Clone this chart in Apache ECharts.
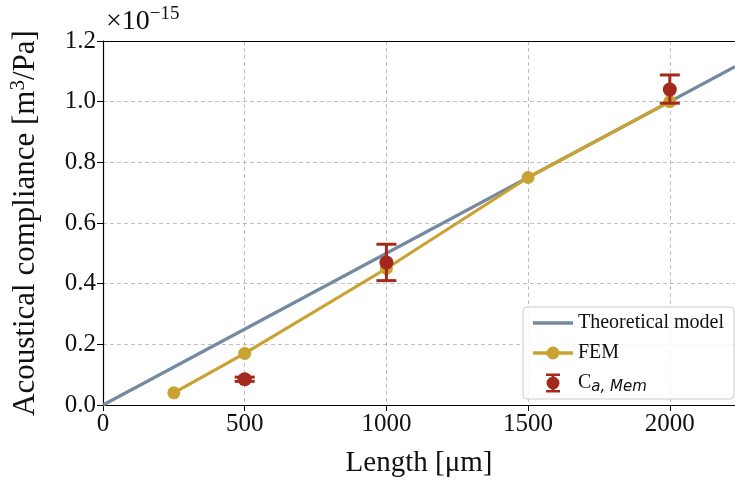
<!DOCTYPE html>
<html lang="en">
<head>
    <meta charset="UTF-8">
    <title>Acoustical compliance</title>
    <script src="https://cdn.jsdelivr.net/npm/echarts@6/dist/echarts.min.js"></script>
</head>
<body style="margin:0">
<div id="box" style="width:735px;height:483px;"></div>
<script type="text/javascript">
    // data (compliance in units of 1e-15 m^3/Pa)
    let theoryX=[0,2230];
    let theoryY=[0,1.115];
    let femX=[250,500,1000,1500,2000];
    let femY=[0.04,0.17,0.45,0.75,1.0];
    let measX=[500,1000,2000];
    let measY=[0.085,0.47,1.04];
    let measLo=[0.078,0.41,0.995];
    let measHi=[0.092,0.53,1.088];
    let xTicks=[0,500,1000,1500,2000];
    let yTicks=[0,0.2,0.4,0.6,0.8,1.0,1.2];

    let font='Liberation Serif';
    let red='#a3291c';
    let gold='#c9a232';
    let slate='#7589a0';

    let chart=echarts.init(document.getElementById('box'));

    // legend icons, all in a 40x20 box (tiny corner dots fix the box)
    let corners='M0,0L0.01,0L0,0.01Z M40,20L39.99,20L40,19.99Z ';
    let lineIcon='path://'+corners+'M0,8.3H40V11.7H0Z';
    let femIcon='path://'+corners+'M0,8.3H40V11.7H0Z M13.5,10A6.5,6.5 0 1,1 26.5,10A6.5,6.5 0 1,1 13.5,10Z';
    let errIcon='path://'+corners+'M13,0.5H27V3H13Z M18.6,3H21.4V17H18.6Z M13,17H27V19.5H13Z M13.5,10A6.5,6.5 0 1,1 26.5,10A6.5,6.5 0 1,1 13.5,10Z';

    let option={
        animation:false,
        textStyle:{fontFamily:font},
        grid:{left:103,right:-3,top:41,bottom:76},
        graphic:[{
            type:'text',left:106,top:5,
            style:{
                text:'{a|×10}{b|−15}',
                rich:{
                    a:{fontFamily:font,fontSize:28,fill:'#111'},
                    b:{fontFamily:font,fontSize:19,fill:'#111',verticalAlign:'top',padding:[0,0,14,0]}
                }
            }
        }],
        legend:{
            orient:'vertical',
            left:523,top:307,
            padding:[6,10,4,10],
            itemGap:10,
            itemWidth:40,itemHeight:20,
            backgroundColor:'rgba(255,255,255,0.85)',
            borderColor:'#cccccc',borderWidth:1,borderRadius:4,
            textStyle:{
                fontFamily:font,fontSize:20,color:'#111',
                rich:{
                    c:{fontFamily:font,fontSize:20,color:'#111'},
                    s:{fontFamily:'DejaVu Sans',fontStyle:'italic',fontSize:15,color:'#111',padding:[9,0,0,0]}
                }
            },
            formatter:function (name) {
                if (name=='Cmem') return '{c|C}{s|a, Mem}';
                return name;
            },
            data:[
                {name:'Theoretical model',icon:lineIcon,itemStyle:{color:slate}},
                {name:'FEM',icon:femIcon,itemStyle:{color:gold}},
                {name:'Cmem',icon:errIcon,itemStyle:{color:red}}
            ]
        },
        xAxis:[{
            type:'value',min:0,max:2230,interval:500,
            name:'Length [μm]',nameLocation:'middle',nameGap:44,
            nameTextStyle:{fontFamily:font,fontSize:29,color:'#111'},
            axisLine:{lineStyle:{color:'#000',width:1.2}},
            axisTick:{show:true,length:6,lineStyle:{color:'#000'}},
            axisLabel:{fontFamily:font,fontSize:25,color:'#111',margin:7,showMaxLabel:false,
                formatter:v=>String(v)},
            splitLine:{show:true,lineStyle:{color:'#b0b0b0',type:[4,3],width:0.8}}
        },{
            // top spine
            type:'value',position:'top',min:0,max:2230,
            axisLine:{show:true,lineStyle:{color:'#000',width:1.2}},
            axisTick:{show:false},axisLabel:{show:false},splitLine:{show:false}
        }],
        yAxis:{
            type:'value',min:0,max:1.2,interval:0.2,
            name:'Acoustical compliance [m{sup|3}/Pa]',nameLocation:'middle',nameGap:60,
            nameTextStyle:{fontFamily:font,fontSize:31,color:'#111',
                rich:{sup:{fontFamily:font,fontSize:21,color:'#111',verticalAlign:'top',padding:[0,0,14,0]}}},
            axisLine:{show:true,lineStyle:{color:'#000',width:1.2}},
            axisTick:{show:true,length:6,lineStyle:{color:'#000'}},
            axisLabel:{fontFamily:font,fontSize:25,color:'#111',margin:7,
                formatter:v=>v.toFixed(1)},
            splitLine:{show:true,lineStyle:{color:'#b0b0b0',type:[4,3],width:0.8}}
        },
        series:[
            {
                name:'Theoretical model',type:'line',
                data:theoryX.map((x,i)=>[x,theoryY[i]]),
                showSymbol:false,symbol:'none',
                lineStyle:{color:slate,width:3.2},itemStyle:{color:slate},z:2
            },
            {
                name:'FEM',type:'line',
                data:femX.map((x,i)=>[x,femY[i]]),
                symbol:'circle',symbolSize:13,
                lineStyle:{color:gold,width:3.2},itemStyle:{color:gold},z:3
            },
            {
                name:'Cmem',type:'custom',
                data:measX.map((x,i)=>[x,measY[i],measLo[i],measHi[i]]),
                encode:{x:0,y:[1,2,3]},
                itemStyle:{color:red},z:4,
                renderItem:function (params,api) {
                    let c=api.coord([api.value(0),api.value(1)]);
                    let lo=api.coord([api.value(0),api.value(2)]);
                    let hi=api.coord([api.value(0),api.value(3)]);
                    let w=10;
                    let st={stroke:red,lineWidth:3};
                    return {
                        type:'group',
                        children:[
                            {type:'line',shape:{x1:c[0],y1:lo[1],x2:c[0],y2:hi[1]},style:st},
                            {type:'line',shape:{x1:c[0]-w,y1:lo[1],x2:c[0]+w,y2:lo[1]},style:st},
                            {type:'line',shape:{x1:c[0]-w,y1:hi[1],x2:c[0]+w,y2:hi[1]},style:st},
                            {type:'circle',shape:{cx:c[0],cy:c[1],r:7},style:{fill:red}}
                        ]
                    };
                }
            }
        ]
    };
    chart.setOption(option);
</script>
</body>
</html>
